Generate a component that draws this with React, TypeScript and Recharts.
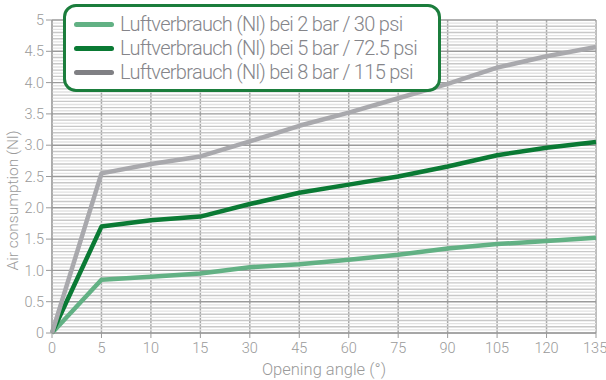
import React from "react";
import {
  LineChart,
  Line,
  XAxis,
  YAxis,
  CartesianGrid,
  ReferenceLine,
  Legend,
} from "recharts";

const angles = ["0", "5", "10", "15", "30", "45", "60", "75", "90", "105", "120", "135"];
const bar2 = [0, 0.85, 0.9, 0.95, 1.05, 1.1, 1.17, 1.25, 1.35, 1.42, 1.47, 1.52];
const bar5 = [0, 1.7, 1.8, 1.86, 2.06, 2.24, 2.37, 2.5, 2.66, 2.84, 2.96, 3.05];
const bar8 = [0, 2.55, 2.7, 2.82, 3.06, 3.31, 3.52, 3.75, 3.98, 4.24, 4.42, 4.57];
const yTicks = [0, 0.5, 1, 1.5, 2, 2.5, 3, 3.5, 4, 4.5, 5];
const seriesNames = [
  "Luftverbrauch (Nl) bei 2 bar / 30 psi",
  "Luftverbrauch (Nl) bei 5 bar / 72.5 psi",
  "Luftverbrauch (Nl) bei 8 bar / 115 psi",
];
const seriesColors = ["#62b184", "#0a7a34", "#a9a9ad"];
const legendColors = ["#62b184", "#0a7a34", "#808084"];

const data = angles.map((a, i) => ({ angle: a, b2: bar2[i], b5: bar5[i], b8: bar8[i] }));

const minorGrid: number[] = [];
for (let k = 1; k < 100; k++) {
  if (k % 10 !== 0) minorGrid.push(k / 20);
}

const FONT = "Roboto, 'Liberation Sans', sans-serif";

const LegendBox = () => (
  <div
    style={{
      border: "3px solid #1b7d3c",
      borderRadius: 13,
      background: "#fff",
      padding: "5px 6px 0px 8px",
      boxSizing: "border-box",
      width: 378,
      height: 88,
      overflow: "hidden",
    }}
  >
    {seriesNames.map((n, i) => (
      <div
        key={n}
        style={{ display: "flex", alignItems: "center", height: 24, lineHeight: "24px" }}
      >
        <div
          style={{
            width: 40,
            height: 5,
            borderRadius: 3,
            background: legendColors[i],
            marginRight: 6,
            flex: "none",
          }}
        />
        <span
          style={{
            fontFamily: FONT,
            fontWeight: 300,
            fontSize: 20,
            lineHeight: "24px",
            letterSpacing: -0.7,
            color: "#85858a",
            whiteSpace: "nowrap",
          }}
        >
          {n}
        </span>
      </div>
    ))}
  </div>
);

const YLabel = (props: any) => {
  const vb = props.viewBox || { x: 0, y: 0, width: 0, height: 0 };
  const cx = vb.x + 13;
  const cy = vb.y + vb.height / 2 + 24;
  return (
    <text
      x={cx}
      y={cy}
      transform={`rotate(-90, ${cx}, ${cy})`}
      textAnchor="middle"
      dominantBaseline="central"
      fill="#9a9a9a"
      fontSize={15.5}
      fontFamily={FONT}
      fontWeight={300}
    >
      Air consumption (Nl)
    </text>
  );
};

export default function App() {
  return (
    <div style={{ position: "absolute", left: 0, top: 0, background: "#fff" }}>
      <LineChart
        width={606}
        height={380}
        data={data}
        margin={{ top: 20, right: 10, bottom: 17, left: 0 }}
      >
        {minorGrid.map((v) => (
          <ReferenceLine
            key={v}
            y={v}
            stroke={Math.round(v * 20) % 2 === 0 ? "#c8c8c8" : "#e2e2e2"}
            strokeWidth={1.4}
            ifOverflow="hidden"
          />
        ))}
        {yTicks.map((v) => (
          <ReferenceLine key={"m" + v} y={v} stroke="#9a9a9a" strokeWidth={1.4} />
        ))}
        <CartesianGrid horizontal={false} stroke="#a8a8a8" strokeWidth={1.5} />
        <XAxis
          dataKey="angle"
          height={30}
          stroke="#9a9a9a"
          tickLine={{ stroke: "#9a9a9a" }}
          tickSize={5}
          tickMargin={5}
          tick={{ fill: "#9a9a9a", fontSize: 14.5, fontFamily: FONT, fontWeight: 300 }}
          label={{
            value: "Opening angle (°)",
            position: "insideBottom",
            offset: -12,
            fill: "#9a9a9a",
            fontSize: 16.5,
            fontFamily: FONT,
            fontWeight: 300,
          }}
        />
        <YAxis
          width={52}
          domain={[0, 5]}
          ticks={yTicks}
          stroke="#9a9a9a"
          tickSize={6}
          tickFormatter={(v: number) => (v === 0 || v === 5 ? String(v) : v.toFixed(1))}
          tick={{ fill: "#9a9a9a", fontSize: 14.5, fontFamily: FONT, fontWeight: 300 }}
          label={<YLabel />}
        />
        <Line dataKey="b2" stroke={seriesColors[0]} strokeWidth={4.5} dot={false} isAnimationActive={false} strokeLinejoin="round" />
        <Line dataKey="b5" stroke={seriesColors[1]} strokeWidth={4.5} dot={false} isAnimationActive={false} strokeLinejoin="round" />
        <Line dataKey="b8" stroke={seriesColors[2]} strokeWidth={4.5} dot={false} isAnimationActive={false} strokeLinejoin="round" />
        <Legend
          layout="horizontal"
          verticalAlign="middle"
          align="center"
          content={() => <LegendBox />}
          wrapperStyle={{ top: 4, left: 63, width: 378, height: 88 }}
        />
      </LineChart>
    </div>
  );
}
